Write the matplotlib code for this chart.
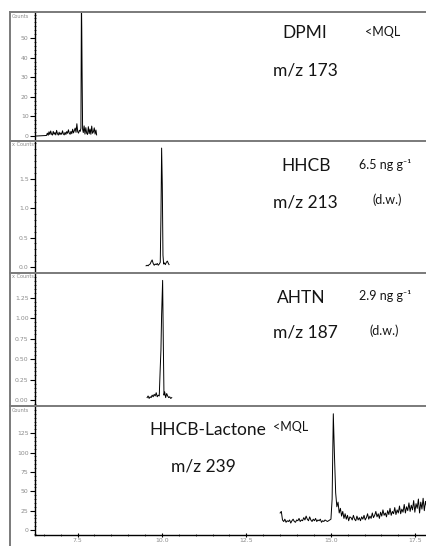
import numpy as np
import matplotlib
matplotlib.use("Agg")
import matplotlib.pyplot as plt
from matplotlib.lines import Line2D
from matplotlib.ticker import MultipleLocator, FixedLocator, FormatStrFormatter

W, H = 427, 546

# DPMI, m/z 173
dpmi_time = [6.24, 6.58, 6.605, 6.63, 6.655, 6.68, 6.705, 6.73, 6.755, 6.78, 6.805,
             6.83, 6.855, 6.88, 6.905, 6.93, 6.955, 6.98, 7.005, 7.03, 7.055,
             7.08, 7.105, 7.13, 7.155, 7.18, 7.205, 7.23, 7.255, 7.28, 7.305,
             7.33, 7.355, 7.38, 7.405, 7.43, 7.455, 7.48, 7.505, 7.53, 7.555,
             7.58, 7.60, 7.615, 7.625, 7.635, 7.65, 7.67, 7.695, 7.72, 7.745,
             7.77, 7.795, 7.82, 7.845, 7.87, 7.895, 7.92, 7.945, 7.97, 7.995,
             8.02, 8.045, 8.065]
dpmi_counts = [0.0, 0.3, 1.5, 0.4, 2.2, 0.8, 2.6, 1.0, 0.5, 2.4, 0.9,
               1.8, 0.6, 2.9, 1.2, 0.5, 2.0, 0.7, 1.6, 0.9, 2.7,
               1.1, 0.6, 1.9, 0.8, 2.3, 1.4, 3.2, 1.5, 0.9, 2.4,
               1.2, 3.5, 1.6, 2.8, 4.1, 1.9, 6.3, 2.2, 1.5, 3.0,
               2.4, 4.0, 70.0, 55.0, 32.0, 3.5, 1.8, 5.2, 1.0, 4.3,
               1.5, 0.8, 4.8, 1.2, 3.6, 0.9, 5.1, 1.4, 2.2, 4.2,
               1.0, 3.1, 0.6]

# HHCB, m/z 213
hhcb_time = [9.53, 9.56, 9.59, 9.62, 9.65, 9.68, 9.71, 9.74, 9.77, 9.80, 9.83,
             9.86, 9.89, 9.92, 9.95, 9.97, 9.98, 9.99, 10.01, 10.03, 10.05,
             10.07, 10.10, 10.13, 10.16, 10.19, 10.21]
hhcb_counts = [0.02, 0.03, 0.02, 0.04, 0.05, 0.09, 0.12, 0.06, 0.03, 0.05, 0.04,
               0.06, 0.03, 0.05, 0.08, 0.85, 1.42, 2.02, 1.40, 0.20, 0.05,
               0.07, 0.04, 0.08, 0.10, 0.06, 0.04]

# AHTN, m/z 187
ahtn_time = [9.56, 9.59, 9.62, 9.65, 9.68, 9.71, 9.74, 9.77, 9.80, 9.83, 9.86,
             9.89, 9.92, 9.95, 9.97, 9.99, 10.02, 10.04, 10.06, 10.08, 10.11,
             10.14, 10.17, 10.20, 10.23, 10.26, 10.29]
ahtn_counts = [0.03, 0.05, 0.02, 0.04, 0.03, 0.06, 0.04, 0.07, 0.05, 0.09, 0.04,
               0.06, 0.05, 0.40, 0.61, 1.04, 1.46, 0.70, 0.06, 0.10, 0.03,
               0.08, 0.05, 0.03, 0.04, 0.02, 0.03]

# HHCB-Lactone, m/z 239 (scans every 0.035 min from 13.50)
lactone_start = 13.50
lactone_step = 0.035
lactone_counts = [22, 24, 13, 11, 14, 10, 12, 11, 13, 9,
                  12, 14, 11, 10, 13, 12, 15, 11, 13, 12,
                  16, 13, 18, 14, 12, 17, 13, 11, 14, 12,
                  15, 11, 13, 12, 14, 10, 12, 11, 13, 12,
                  11, 12, 13, 14, 40, 150, 95, 48, 30, 36,
                  22, 28, 18, 24, 15, 21, 14, 19, 12, 17,
                  16, 13, 19, 14, 12, 18, 13, 16, 12, 17,
                  14, 19, 13, 16, 21, 14, 18, 15, 22, 16,
                  19, 24, 17, 21, 15, 23, 18, 26, 19, 22,
                  17, 25, 20, 28, 19, 24, 21, 29, 20, 26,
                  22, 31, 21, 27, 23, 33, 22, 30, 25, 35,
                  24, 32, 26, 38, 23, 34, 28, 40, 22, 36,
                  27, 41, 25, 37, 30]
lactone_time = lactone_start + lactone_step * np.arange(len(lactone_counts))

x_ticks = [7.5, 10.0, 12.5, 15.0, 17.5]
dpmi_ticks = [0, 10, 20, 30, 40, 50]
hhcb_ticks = [0.0, 0.5, 1.0, 1.5]
ahtn_ticks = [0.0, 0.25, 0.5, 0.75, 1.0, 1.25]
lactone_ticks = [0, 25, 50, 75, 100, 125]

gray = "#8a8a8a"
label_font = ["Lato", "DejaVu Sans"]


def px_axes(fig, top, bottom, left=35, right=W):
    return fig.add_axes([left / W, 1 - bottom / H, (right - left) / W, (bottom - top) / H])


def fig_text(fig, x, y, s, size, **kw):
    fig.text(x / W, 1 - y / H, s, fontsize=size, ha="center", va="center",
             family=label_font, color="#151515", **kw)


fig = plt.figure(figsize=(W / 100, H / 100), dpi=100)
fig.patch.set_facecolor("white")

panels = [
    # top, bottom, ylim, ticks, minor step, fmt, unit label, data
    (13, 140, (-2.0, 62.8), dpmi_ticks, 2, "%d", "Counts", dpmi_time, dpmi_counts),
    (141, 272, (-0.085, 2.14), hhcb_ticks, 0.1, "%.1f", "x Counts", hhcb_time, hhcb_counts),
    (273, 405, (-0.06, 1.55), ahtn_ticks, 0.05, "%.2f", "x Counts", ahtn_time, ahtn_counts),
    (406, 535, (-6.4, 160), lactone_ticks, 5, "%d", "Counts", lactone_time, lactone_counts),
]

for i, (top, bottom, ylim, ticks, minor, fmt, unit, t, y) in enumerate(panels):
    ax = px_axes(fig, top, bottom)
    ax.plot(t, y, color="black", lw=0.7)
    ax.set_xlim(6.24, 17.85)
    ax.set_ylim(*ylim)
    ax.patch.set_alpha(0)
    for side in ["top", "right"]:
        ax.spines[side].set_visible(False)
    ax.spines["left"].set_linewidth(1.0)
    ax.yaxis.set_major_locator(FixedLocator(ticks))
    ax.yaxis.set_minor_locator(MultipleLocator(minor))
    ax.yaxis.set_major_formatter(FormatStrFormatter(fmt))
    ax.tick_params(axis="y", which="major", length=3.5, width=0.8, direction="out",
                   labelsize=4.4, labelcolor=gray, pad=1)
    ax.tick_params(axis="y", which="minor", length=2, width=0.5, direction="inout")
    if i < 3:
        ax.spines["bottom"].set_visible(False)
        ax.set_xticks([])
    else:
        ax.spines["bottom"].set_linewidth(1.0)
        ax.set_xticks(x_ticks)
        ax.xaxis.set_major_formatter(FormatStrFormatter("%.1f"))
        ax.xaxis.set_minor_locator(MultipleLocator(0.5))
        ax.tick_params(axis="x", which="major", length=3, width=0.8, direction="inout",
                       labelsize=4.4, labelcolor=gray, pad=1)
        ax.tick_params(axis="x", which="minor", length=2, width=0.5, direction="inout")
    fig.text(12 / W, 1 - (top + 4) / H, unit, fontsize=3.6, color=gray,
             ha="left", va="center")

# outer frame and panel separators
frame = dict(color="#7a7a7a", lw=1.4, transform=fig.transFigure)
fig.add_artist(Line2D([10 / W, 1], [1 - 12 / H, 1 - 12 / H], **frame))
fig.add_artist(Line2D([10 / W, 10 / W], [0, 1 - 12 / H], **frame))
for yy in [140.5, 272.5, 405.5]:
    fig.add_artist(Line2D([10 / W, 1], [1 - yy / H, 1 - yy / H], **frame))

# compound labels
fig_text(fig, 305, 33, "DPMI", 12.5)
fig_text(fig, 383, 32, "<MQL", 9)
fig_text(fig, 305, 71, "m/z 173", 12.5)

fig_text(fig, 306, 166, "HHCB", 12.5)
fig_text(fig, 385, 165, "6.5 ng g\u207b\u00b9", 9)
fig_text(fig, 305, 202, "m/z 213", 12.5)
fig_text(fig, 387, 200, "(d.w.)", 9)

fig_text(fig, 301, 298, "AHTN", 12.5)
fig_text(fig, 385, 296, "2.9 ng g\u207b\u00b9", 9)
fig_text(fig, 305, 333, "m/z 187", 12.5)
fig_text(fig, 384, 331, "(d.w.)", 9)

fig_text(fig, 208, 430, "HHCB-Lactone", 12.5)
fig_text(fig, 291, 427, "<MQL", 9)
fig_text(fig, 203, 467, "m/z 239", 12.5)

fig.savefig("out.png", dpi=100)
